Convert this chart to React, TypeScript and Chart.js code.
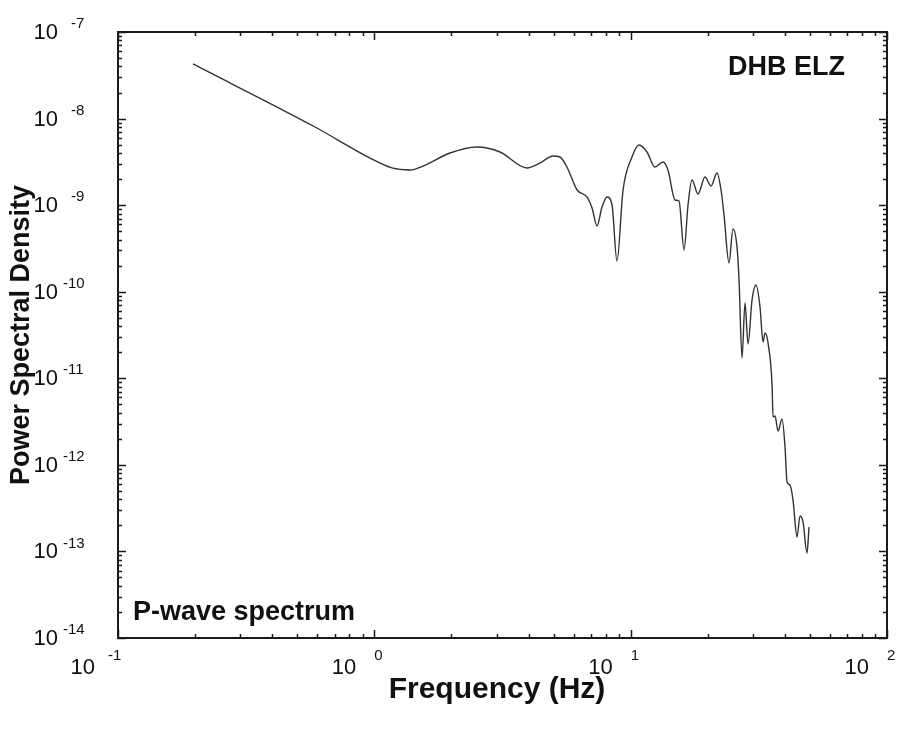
import React, { useEffect, useRef } from "react";
import { Chart, registerables } from "chart.js";

Chart.register(...registerables);

// Frequency (Hz)
const freqHz: number[] = [
  0.196, 0.587, 0.962, 1.172, 1.378, 1.548, 1.974, 2.515, 3.093, 3.94,
  4.43, 4.98, 5.3, 5.64, 6.18, 6.76, 7.07, 7.39, 7.73, 8.09,
  8.46, 8.84, 9.34, 10.12, 10.78, 11.58, 12.44, 13.37, 13.98, 14.89,
  15.44, 16.15, 16.74, 17.35, 18.31, 19.5, 20.58, 21.72, 22.52, 23.13,
  24.19, 25.07, 25.99, 26.47, 27.19, 27.93, 28.7, 29.75, 30.83, 31.96,
  32.84, 33.44, 34.35, 35.61, 35.93, 36.58, 37.57, 38.95, 40.01, 40.73,
  41.84, 42.98, 44.56, 45.78, 47.03, 48.75, 49.63,
];

// Power spectral density
const psd: number[] = [
  4.27e-8, 7.99e-9, 3.5e-9, 2.69e-9, 2.55e-9, 2.83e-9, 4.0e-9, 4.69e-9, 4.11e-9, 2.69e-9,
  3.07e-9, 3.69e-9, 3.6e-9, 2.76e-9, 1.496e-9, 1.24e-9, 9.27e-10, 5.74e-10, 9.52e-10, 1.24e-9,
  1.004e-9, 2.26e-10, 1.496e-9, 3.6e-9, 4.95e-9, 4.11e-9, 2.76e-9, 3.15e-9, 2.55e-9, 1.147e-9,
  1.116e-9, 3.03e-10, 1.004e-9, 1.95e-9, 1.345e-9, 2.11e-9, 1.66e-9, 2.35e-9, 1.496e-9, 7.69e-10,
  2.15e-10, 5.3e-10, 3.29e-10, 1.366e-10, 1.716e-11, 7.41e-11, 2.49e-11, 8.02e-11, 1.195e-10, 6.66e-11,
  2.63e-11, 3.33e-11, 2.56e-11, 8.37e-12, 3.57e-12, 3.67e-12, 2.46e-12, 3.39e-12, 1.61e-12, 6.34e-13,
  5.85e-13, 3.93e-13, 1.47e-13, 2.57e-13, 2.19e-13, 9.59e-14, 1.91e-13,
];

const xTickExps: number[] = [-1, 0, 1, 2];
const yTickExps: number[] = [-7, -8, -9, -10, -11, -12, -13, -14];

const xTitle = "Frequency (Hz)";
const yTitle = "Power Spectral Density";
const stationLabel = "DHB ELZ";
const phaseLabel = "P-wave spectrum";

const FONT = '"Liberation Sans", Arial, sans-serif';

const framePlugin = {
  id: "framePlugin",
  afterDraw(chart: any) {
    const ctx: CanvasRenderingContext2D = chart.ctx;
    const { left, right, top, bottom } = chart.chartArea;
    const xs = chart.scales.x;
    const ys = chart.scales.y;
    ctx.save();
    ctx.strokeStyle = "#1a1a1a";
    ctx.lineWidth = 2;
    ctx.strokeRect(left, top, right - left, bottom - top);

    ctx.lineWidth = 1.5;
    ctx.beginPath();
    // x ticks
    for (let d = xTickExps[0]; d <= xTickExps[xTickExps.length - 1]; d++) {
      for (let m = 1; m <= 9; m++) {
        if (d === xTickExps[xTickExps.length - 1] && m > 1) break;
        const px = Math.round(xs.getPixelForValue(m * Math.pow(10, d))) + 0.5;
        const len = m === 1 ? 8 : 4;
        ctx.moveTo(px, bottom);
        ctx.lineTo(px, bottom - len);
        ctx.moveTo(px, top);
        ctx.lineTo(px, top + len);
      }
    }
    // y ticks
    const yMin = yTickExps[yTickExps.length - 1];
    const yMax = yTickExps[0];
    for (let d = yMin; d <= yMax; d++) {
      for (let m = 1; m <= 9; m++) {
        if (d === yMax && m > 1) break;
        const py = Math.round(ys.getPixelForValue(m * Math.pow(10, d))) + 0.5;
        const len = m === 1 ? 8 : 4;
        ctx.moveTo(left, py);
        ctx.lineTo(left + len, py);
        ctx.moveTo(right, py);
        ctx.lineTo(right - len, py);
      }
    }
    ctx.stroke();

    ctx.fillStyle = "#111";
    ctx.textBaseline = "middle";
    // x tick labels
    xTickExps.forEach((e) => {
      const px = xs.getPixelForValue(Math.pow(10, e));
      const expLeft = px + (e < 0 ? -10 : 0);
      ctx.font = `22px ${FONT}`;
      ctx.textAlign = "right";
      ctx.fillText("10", expLeft - (e < 0 ? 13 : 18), bottom + 30);
      ctx.font = `15px ${FONT}`;
      ctx.textAlign = "left";
      ctx.fillText(String(e), expLeft, bottom + 18);
    });
    // y tick labels
    yTickExps.forEach((e) => {
      const py = ys.getPixelForValue(Math.pow(10, e));
      ctx.font = `22px ${FONT}`;
      ctx.textAlign = "right";
      ctx.fillText("10", 58, py + 1);
      ctx.font = `15px ${FONT}`;
      ctx.textAlign = "left";
      ctx.fillText(String(e), String(e).length > 2 ? 63 : 71, py - 8);
    });

    // titles
    ctx.font = `bold 30px ${FONT}`;
    ctx.textAlign = "center";
    ctx.fillText(xTitle, 497, 690);
    ctx.font = `bold 27px ${FONT}`;
    ctx.save();
    ctx.translate(22, (top + bottom) / 2);
    ctx.rotate(-Math.PI / 2);
    ctx.fillText(yTitle, 0, 0);
    ctx.restore();

    ctx.textAlign = "left";
    ctx.fillText(stationLabel, 728, 68);
    ctx.fillText(phaseLabel, 133, 613);
    ctx.restore();
  },
};

export default function App() {
  const canvasRef = useRef<HTMLCanvasElement | null>(null);

  useEffect(() => {
    if (!canvasRef.current) return;
    const chart = new Chart(canvasRef.current, {
      type: "line",
      data: {
        datasets: [
          {
            data: freqHz.map((f, i) => ({ x: f, y: psd[i] })),
            borderColor: "#333333",
            borderWidth: 1.4,
            pointRadius: 0,
            cubicInterpolationMode: "monotone",
            fill: false,
          },
        ],
      },
      options: {
        animation: false,
        responsive: false,
        devicePixelRatio: 1,
        layout: { padding: { left: 118, right: 22, top: 32, bottom: 91 } },
        plugins: { legend: { display: false }, tooltip: { enabled: false } },
        scales: {
          x: { type: "logarithmic", min: 0.1, max: 100, display: false },
          y: { type: "logarithmic", min: 1e-14, max: 1e-7, display: false },
        },
      },
      plugins: [framePlugin],
    });
    return () => chart.destroy();
  }, []);

  return (
    <div style={{ position: "fixed", left: 0, top: 0, width: 909, height: 729, background: "#fff" }}>
      <canvas ref={canvasRef} width={909} height={729} />
    </div>
  );
}
